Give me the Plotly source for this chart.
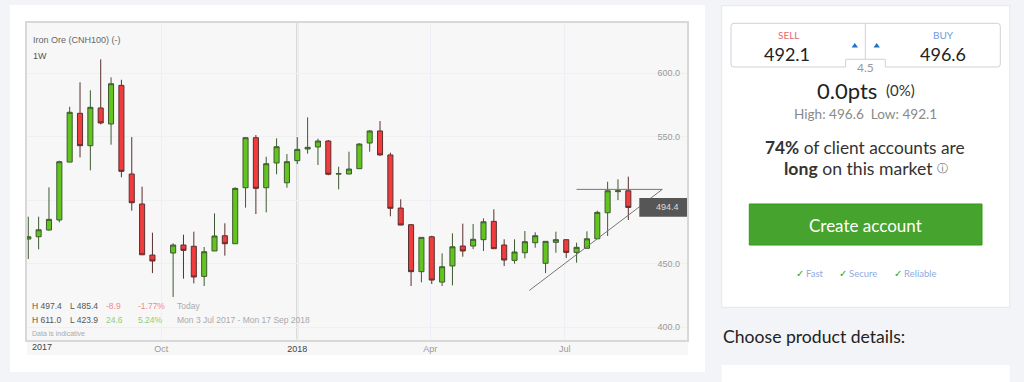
import plotly.graph_objects as go
import datetime as dt

WEEK_START = dt.date(2017, 7, 3)
# week index of each candle (index 13 - the Golden Week - has no candle)
week_index = [i for i in range(59) if i != 13]

opens = [469.5, 471.3, 476.6, 484.5, 530.1, 568.5, 543.0, 572.7, 560.1, 590.5, 520.7, 497.1, 456.9,
         458.5, 464.8, 463.8, 440.1, 460.1, 472.1, 465.8, 509.9, 549.3, 509.9, 529.4, 513.8, 531.2,
         540.4, 542.0, 546.7, 520.7, 520.7, 524.9, 545.1, 554.6, 535.7, 493.9, 480.8, 443.8, 471.3,
         435.6, 448.3, 464.0, 464.0, 469.0, 483.4, 464.8, 452.7, 458.7, 466.6, 450.4, 466.9, 469.0,
         459.0, 462.2, 469.7, 490.2, 506.8, 507.5]
highs = [487.1, 487.1, 510.2, 531.2, 573.7, 592.9, 586.6, 611.0, 596.8, 594.9, 549.8, 510.7, 474.5,
         466.1, 472.9, 475.3, 463.2, 489.7, 481.9, 510.2, 549.6, 551.4, 534.3, 548.8, 536.4, 549.8,
         565.3, 548.5, 547.5, 526.4, 538.3, 544.9, 555.3, 562.4, 537.5, 500.8, 481.3, 470.8, 472.1,
         458.2, 474.0, 481.6, 481.3, 485.8, 492.9, 469.3, 469.3, 475.8, 474.8, 467.7, 475.3, 469.0,
         466.6, 475.6, 491.8, 514.6, 516.5, 518.6]
lows = [453.8, 461.4, 476.1, 482.7, 530.1, 533.8, 523.6, 559.8, 543.8, 518.1, 491.8, 457.1, 442.7,
        423.9, 438.3, 434.6, 432.5, 460.1, 456.4, 465.8, 494.2, 489.2, 490.5, 520.5, 509.9, 528.6,
        536.7, 527.8, 519.7, 508.6, 520.5, 524.9, 538.3, 535.1, 487.4, 480.5, 432.5, 435.4, 434.1,
        432.5, 433.0, 455.6, 461.6, 460.1, 461.9, 448.3, 450.1, 454.3, 462.7, 442.7, 458.7, 454.6,
        450.9, 462.2, 469.7, 471.9, 500.2, 484.5]
closes = [471.3, 476.8, 485.0, 530.4, 569.3, 543.0, 573.2, 560.9, 591.8, 522.8, 498.1, 457.1, 452.2,
          464.8, 460.6, 439.6, 459.5, 471.9, 465.8, 509.4, 549.3, 509.4, 528.8, 542.2, 530.4, 540.1,
          541.7, 546.7, 520.5, 520.9, 524.6, 544.3, 554.6, 535.7, 493.7, 480.5, 443.8, 470.8, 437.2,
          447.7, 463.4, 460.1, 469.3, 483.1, 461.9, 453.0, 459.3, 467.4, 472.1, 467.7, 469.0, 459.0,
          463.0, 469.7, 490.5, 507.5, 507.5, 494.4]
dates = [(WEEK_START + dt.timedelta(days=7 * i)).isoformat() for i in week_index]

resistance_x = ["2018-07-09", "2018-09-05"]
resistance_y = [508.6, 508.6]
support_x = ["2018-06-07", "2018-09-05"]
support_y = [429.0, 508.6]

x_tick_vals = ["2017-10-01", "2018-01-01", "2018-04-01", "2018-07-01"]
x_tick_text = ["Oct", '<span style="color:#444">2018</span>', "Apr", "Jul"]
y_tick_vals = [400, 450, 500, 550, 600]
y_tick_text = ["400.0", "450.0", "", "550.0", "600.0"]

W, H = 1024, 382
CHART = "Liberation Sans, Arial, sans-serif"
PANEL = "Lato, sans-serif"


def px(x):
    return x / W


def py(y):
    return 1 - y / H


def rect(x0, y0, x1, y1, fill, line=None, lw=1):
    return dict(type="rect", xref="paper", yref="paper", layer="below",
                x0=px(x0), x1=px(x1), y0=py(y0), y1=py(y1), fillcolor=fill,
                line=dict(color=line or fill, width=lw if line else 0))


def path(points, fill=None, line=None, lw=1):
    d = ""
    for cmd, *xy in points:
        d += cmd
        if xy:
            d += f" {px(xy[0]):.5f},{py(xy[1]):.5f} "
    return dict(type="path", xref="paper", yref="paper", layer="above", path=d,
                fillcolor=fill or "rgba(0,0,0,0)",
                line=dict(color=line or "rgba(0,0,0,0)", width=lw if line else 0))


def label(x, y, text, size, color, font=CHART, anchor="left"):
    return dict(xref="paper", yref="paper", x=px(x), y=py(y), text=text, showarrow=False,
                xanchor=anchor, yanchor="middle", borderpad=0,
                font=dict(family=font, size=size, color=color))


fig = go.Figure()
fig.add_trace(go.Candlestick(
    x=dates, open=opens, high=highs, low=lows, close=closes, whiskerwidth=0,
    increasing=dict(fillcolor="#62c41f", line=dict(color="#3f5a30", width=1)),
    decreasing=dict(fillcolor="#f03c3c", line=dict(color="#5a2f2f", width=1)),
))
for xs, ys in ((resistance_x, resistance_y), (support_x, support_y)):
    fig.add_trace(go.Scatter(x=xs, y=ys, mode="lines", line=dict(color="#777777", width=1)))

shapes = [
    rect(10, 5, 705, 372, "#ffffff"),
    rect(27, 22.5, 688, 355, "#f7f7f7"),
    dict(type="line", xref="x", yref="paper", layer="below",
         x0="2018-01-01", x1="2018-01-01", y0=py(339.5), y1=py(22.5),
         line=dict(color="#d0d0d0", width=2)),
    rect(721.7, 5.7, 1009.7, 307.3, "#ffffff", "#e6e7e9"),
    rect(721.7, 365, 1009.7, 384, "#ffffff"),
    rect(749.3, 204, 982, 245, "#46a32e", "#2b9c14"),
    # price marker
    dict(type="rect", xref="paper", yref="paper", layer="above",
         x0=px(639.3), x1=px(687), y0=py(198), y1=py(216.7),
         fillcolor="#565656", line=dict(width=0)),
    # sell / buy box
    path([("M", 734, 23.3), ("L", 997.3, 23.3), ("Q", 1000.3, 23.3), ("", 1000.3, 26.3),
          ("L", 1000.3, 64), ("Q", 1000.3, 67), ("", 997.3, 67), ("L", 885.3, 67),
          ("L", 885.3, 59.3), ("L", 845.7, 59.3), ("L", 845.7, 67), ("L", 734, 67),
          ("Q", 731, 67), ("", 731, 64), ("L", 731, 26.3), ("Q", 731, 23.3), ("", 734, 23.3)],
         line="#ced1d6"),
    path([("M", 865.3, 23.3), ("L", 865.3, 59.3)], line="#ced1d6"),
    path([("M", 851.6, 47.5), ("L", 858, 47.5), ("L", 854.8, 43), ("Z",)], fill="#1f74c4"),
    path([("M", 873.5, 47.5), ("L", 879.9, 47.5), ("L", 876.7, 43), ("Z",)], fill="#1f74c4"),
]

ann = [
    label(31.5, 40, "Iron Ore (CNH100) (-)", 9, "#666666"),
    label(31.5, 56.3, "1W", 9, "#555555"),
    label(31.3, 305.7, "H 497.4", 8.5, "#555555"),
    label(68.7, 305.7, "L 485.4", 8.5, "#555555"),
    label(105, 305.7, "-8.9", 8.5, "#f08a8a"),
    label(137, 305.7, "-1.77%", 8.5, "#f08a8a"),
    label(176.3, 305.7, "Today", 8.5, "#aaaaaa"),
    label(31.3, 320.3, "H 611.0", 8.5, "#555555"),
    label(68.7, 320.3, "L 423.9", 8.5, "#555555"),
    label(105, 320.3, "24.6", 8.5, "#8fd070"),
    label(137, 320.3, "5.24%", 8.5, "#8fd070"),
    label(176.3, 320.3, "Mon 3 Jul 2017 - Mon 17 Sep 2018", 8.5, "#aaaaaa"),
    label(31.3, 333.3, "Data is indicative", 7, "#aaaaaa"),
    label(41.7, 347.2, "2017", 9, "#444444", anchor="center"),
    label(680.3, 207.3, "494.4", 9, "#dddddd", anchor="right"),
    label(788, 35, "SELL", 10, "#e36a6f", PANEL, "center"),
    label(943, 35, "BUY", 10, "#6b9bdc", PANEL, "center"),
    label(787, 54, "492.1", 18, "#222222", PANEL, "center"),
    label(943, 54, "496.6", 18, "#222222", PANEL, "center"),
    label(865.3, 67, "4.5", 12, "#999999", PANEL, "center"),
    label(816, 90.7, "0.0pts", 22, "#222222", PANEL),
    label(885, 90, "(0%)", 15, "#333333", PANEL),
    label(865.3, 114, "High: 496.6&nbsp;&nbsp;Low: 492.1", 13.6, "#8a8a8a", PANEL, "center"),
    label(865.3, 147, "<b>74%</b> of client accounts are", 17.3, "#333333", PANEL, "center"),
    label(783, 168.5, "<b>long</b> on this market", 17.6, "#333333", PANEL),
    label(942, 168.5, "ⓘ", 11, "#666666", "DejaVu Sans", "center"),
    label(865.3, 225, "Create account", 17, "#ffffff", PANEL, "center"),
    label(794.5, 273, "✓", 10, "#22aa22", "DejaVu Sans"),
    label(805, 273, "Fast", 9.5, "#8fabde", PANEL),
    label(838, 273, "✓", 10, "#22aa22", "DejaVu Sans"),
    label(848, 273, "Secure", 9.5, "#8fabde", PANEL),
    label(893, 273, "✓", 10, "#22aa22", "DejaVu Sans"),
    label(903, 273, "Reliable", 9.5, "#8fabde", PANEL),
    label(722, 336.7, "Choose product details:", 17.6, "#222222", PANEL),
]

fig.update_layout(
    width=W, height=H, autosize=False, showlegend=False,
    margin=dict(l=0, r=0, t=0, b=0),
    paper_bgcolor="#f3f4f7", plot_bgcolor="rgba(0,0,0,0)",
    shapes=shapes, annotations=ann,
    font=dict(family=CHART, size=9, color="#999999"),
    xaxis=dict(
        domain=[px(27), px(687)], range=["2017-07-02 03:00", "2018-09-21 17:00"],
        rangeslider=dict(visible=False), type="date",
        tickvals=x_tick_vals, ticktext=x_tick_text, tickangle=0,
        showgrid=True, gridcolor="#eeeef6", gridwidth=1, zeroline=False,
        showline=True, mirror=True, linecolor="#d8d8d8", linewidth=1.5,
        ticks="", tickfont=dict(family=CHART, size=9, color="#999999"),
    ),
    yaxis=dict(
        domain=[py(339.5), py(22.5)], range=[390.4, 640.0], side="right",
        tickvals=y_tick_vals, ticktext=y_tick_text, ticklabelposition="inside",
        ticklabelstandoff=6,
        showgrid=True, gridcolor="#f0f0f2", gridwidth=1, zeroline=False,
        showline=True, mirror=True, linecolor="#d8d8d8", linewidth=1.5,
        ticks="", tickfont=dict(family=CHART, size=9, color="#999999"),
    ),
)

fig.write_html("out.html", config=dict(displayModeBar=False), post_script=(
    "document.documentElement.style.margin='0';"
    "document.body.style.margin='0';document.body.style.overflow='hidden';"
))
